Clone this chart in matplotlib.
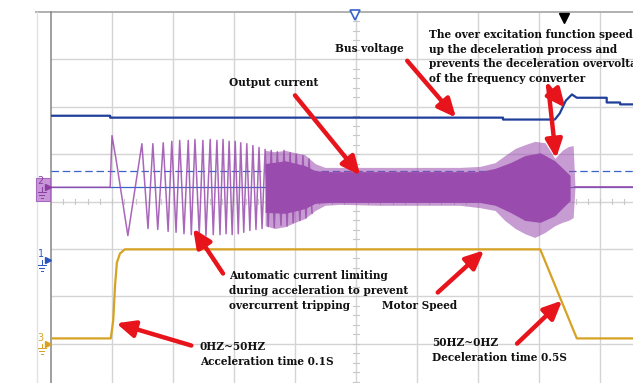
import numpy as np
import matplotlib.pyplot as plt

# screen divisions: 10 across, 8 high (centre = 0)
bus_x = [0.00, 0.97, 0.97, 7.41, 7.41, 8.26, 8.34, 8.44, 8.54, 8.62, 9.11, 9.11, 9.33, 9.33, 10.0]
bus_y = [1.81, 1.81, 1.77, 1.77, 1.73, 1.73, 1.86, 2.13, 2.26, 2.19, 2.19, 2.09, 2.09, 2.05, 2.05]

speed_x = [0.00, 0.98, 1.02, 1.05, 1.08, 1.13, 1.21, 8.02, 8.62, 10.0]
speed_y = [-2.89, -2.89, -2.51, -1.77, -1.29, -1.10, -1.01, -1.01, -2.89, -2.89]

# output current, visible swings during acceleration
cur_x = [0.00, 0.97, 1.00, 1.07, 1.26, 1.49, 1.59, 1.67, 1.75, 1.84, 1.92, 1.98, 2.05, 2.11,
         2.18, 2.25, 2.30, 2.36, 2.43, 2.49, 2.54, 2.61, 2.66, 2.72, 2.77, 2.82, 2.87, 2.92,
         2.97, 3.02, 3.07, 3.11, 3.16, 3.21, 3.26, 3.31, 3.36, 3.41, 3.46, 3.51, 3.56,
         3.61, 3.66, 3.71, 3.77, 3.82, 3.87, 3.92, 3.97, 4.02, 4.08, 4.13, 4.18, 4.23, 4.28]
cur_y = [0.30, 0.30, 1.39, 0.86, -0.72, 1.22, -0.57, 1.22, -0.59, 1.24, -0.63, 1.27, -0.65, 1.29,
         -0.68, 1.29, -0.70, 1.31, -0.70, 1.29, -0.72, 1.31, -0.70, 1.29, -0.70, 1.31, -0.68, 1.27,
         -0.70, 1.27, -0.68, 1.24, -0.65, 1.22, -0.61, 1.18, -0.59, 1.14, -0.57, 1.10, -0.53,
         1.08, -0.55, 1.05, -0.50, 1.08, -0.52, 1.03, -0.45, 1.00, -0.40, 0.97, -0.35, 0.90, -0.25]

# output current, dense part (envelope)
env_x = [3.51, 3.67, 3.84, 4.00, 4.16, 4.33, 4.49, 4.74, 5.39, 6.05, 6.70, 7.03, 7.28, 7.44,
         7.61, 7.77, 7.93, 8.10, 8.26, 8.38, 8.48, 8.56, 8.59]
env_top = [1.08, 1.05, 1.08, 1.03, 0.99, 0.80, 0.72, 0.72, 0.72, 0.72, 0.72, 0.74, 0.82, 0.97,
           1.12, 1.20, 1.27, 1.24, 0.91, 1.08, 1.16, 1.18, 0.30]
env_bot = [-0.51, -0.57, -0.53, -0.44, -0.36, -0.19, -0.08, -0.06, -0.08, -0.08, -0.08, -0.13, -0.19, -0.40,
           -0.57, -0.68, -0.76, -0.65, -0.51, -0.44, -0.40, -0.34, 0.30]

core_x = [3.51, 3.84, 4.16, 4.33, 4.57, 7.03, 7.28, 7.53, 7.77, 8.02, 8.26, 8.43, 8.51]
core_top = [0.80, 0.86, 0.76, 0.65, 0.63, 0.63, 0.70, 0.82, 0.97, 1.03, 0.86, 0.65, 0.55]
core_bot = [-0.23, -0.25, -0.15, -0.04, -0.02, -0.02, -0.08, -0.23, -0.40, -0.44, -0.30, -0.08, 0.02]

cur_tail_x = [8.59, 10.0]
cur_tail_y = [0.30, 0.30]

purple = '#9a4cae'
blue = '#1f3f9a'
gold = '#d6a224'
red = '#e8141c'

fig = plt.figure(figsize=(6.33, 3.83), dpi=100)
ax = fig.add_axes([51 / 633, -8 / 383, 610 / 633, 379 / 383])
ax.set_xlim(0, 10)
ax.set_ylim(-4, 4)
ax.axis('off')

# graticule
for gx in range(1, 10):
    ax.axvline(gx, color='#d4d4d4', lw=1, zorder=1)
for gy in range(-3, 4):
    ax.axhline(gy, color='#d4d4d4', lw=1, zorder=1)
for t in np.arange(0.2, 10, 0.2):
    ax.plot([t, t], [-0.05, 0.05], color='#c8c8c8', lw=0.8, zorder=1)
for t in np.arange(-3.8, 4, 0.2):
    ax.plot([4.95, 5.05], [t, t], color='#c8c8c8', lw=0.8, zorder=1)

ax.plot([-0.25, 10], [4, 4], color='#b0b0b0', lw=1.4, clip_on=False)
ax.plot([-0.23, -0.23], [-4.5, 4], color='#e2e2e2', lw=1, clip_on=False)
ax.plot([0, 0], [-4.5, 4], color='#858585', lw=1.1, clip_on=False)

# cursor lines
ax.axhline(0.30, color='#3a64c8', lw=0.9, zorder=2)
ax.axhline(0.65, color='#3a64c8', lw=0.9, ls=(0, (6, 3)), zorder=2)

# traces
ax.fill_between(env_x, env_top, env_bot, color=purple, alpha=0.55, lw=0, zorder=3)
ax.fill_between(core_x, core_top, core_bot, color=purple, lw=0, zorder=3)
ax.plot(cur_x, cur_y, color=purple, lw=1.1, alpha=0.85, zorder=3)
ax.plot(cur_tail_x, cur_tail_y, color=purple, lw=1.2, zorder=3)
ax.plot(bus_x, bus_y, color=blue, lw=1.6, zorder=4)
ax.plot(speed_x, speed_y, color=gold, lw=1.6, zorder=4)

# channel / trigger markers
ax.plot(4.98, 3.94, marker='v', ms=7, mfc='white', mec='#3a64c8', mew=1.2, clip_on=False, zorder=6)
ax.plot(8.41, 3.88, marker='v', ms=7, color='black', clip_on=False, zorder=6)
ax.add_patch(plt.Rectangle((-0.25, 0.02), 0.23, 0.47, facecolor='#c896d8', edgecolor='#a868c0',
                           lw=0.8, clip_on=False, zorder=5))
for lab, yy, col in [('2', 0.30, '#8a3ea0'), ('1', -1.24, '#2a55c0'), ('3', -3.0, '#d6a224')]:
    ax.text(-0.17, yy + 0.02, lab, color=col, fontsize=7, ha='center', va='bottom', clip_on=False, zorder=6)
    ax.plot(-0.05, yy, marker='>', ms=4, color=col, clip_on=False, zorder=6)
    ax.plot([-0.15, -0.15], [yy, yy - 0.1], color=col, lw=0.7, clip_on=False, zorder=6)
    ax.plot([-0.21, -0.09], [yy - 0.1, yy - 0.1], color=col, lw=0.7, clip_on=False, zorder=6)
    ax.plot([-0.19, -0.11], [yy - 0.16, yy - 0.16], color=col, lw=0.7, clip_on=False, zorder=6)
    ax.plot([-0.17, -0.13], [yy - 0.22, yy - 0.22], color=col, lw=0.7, clip_on=False, zorder=6)

# annotations
font = dict(family='DejaVu Serif', fontweight='bold', fontsize=7.6, color='#111111', zorder=8)
ax.text(4.66, 3.23, 'Bus voltage', va='center', **font)
ax.text(2.92, 2.51, 'Output current', va='center', **font)
ax.text(6.20, 3.64, 'The over excitation function speed\nup the deceleration process and\n'
        'prevents the deceleration overvoltage\nof the frequency converter',
        va='top', linespacing=1.4, **font)
limit_lines = ['Automatic current limiting', 'during acceleration to prevent', 'overcurrent tripping']
for i, line in enumerate(limit_lines):
    ax.text(2.92, -1.56 - 0.32 * i, line, va='center', **font)
ax.text(5.43, -2.19, 'Motor Speed', va='center', **font)
ax.text(2.44, -2.94, '0HZ~50HZ\nAcceleration time 0.1S', va='top', linespacing=1.45, **font)
ax.text(6.25, -2.86, '50HZ~0HZ\nDeceleration time 0.5S', va='top', linespacing=1.45, **font)

arrows = [((5.84, 2.97), (6.64, 1.77)),
          ((4.00, 2.24), (5.07, 0.55)),
          ((8.15, 2.43), (8.43, 1.98)),
          ((8.15, 2.43), (8.28, 0.91)),
          ((2.82, -1.52), (2.33, -0.57)),
          ((6.34, -1.92), (7.10, -1.03)),
          ((2.30, -3.04), (1.07, -2.57)),
          ((7.64, -3.00), (8.38, -2.09))]
for start, end in arrows:
    ax.annotate('', xy=end, xytext=start,
                arrowprops=dict(arrowstyle='-|>,head_width=0.5,head_length=1.1', lw=3.2,
                                color=red, shrinkA=0, shrinkB=0, mutation_scale=10),
                zorder=7)

fig.savefig('out.png', dpi=100)
